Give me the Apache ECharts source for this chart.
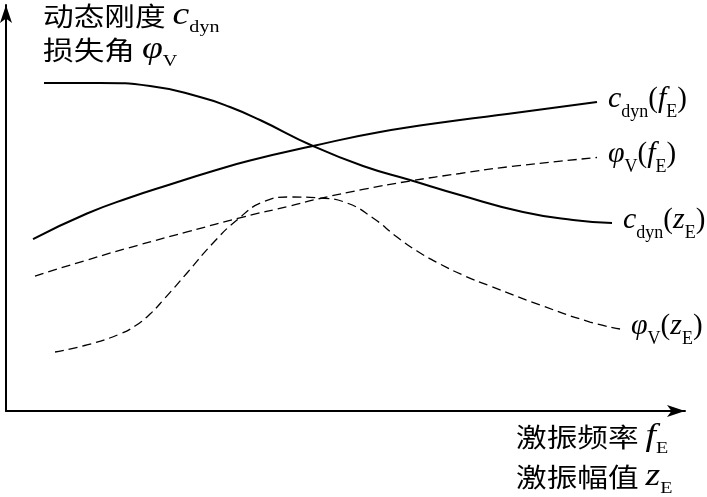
<!DOCTYPE html>
<html><head><meta charset="utf-8">
<script src="https://cdn.jsdelivr.net/npm/echarts@6/dist/echarts.min.js"></script>
<style>html,body{margin:0;padding:0;background:#fff}#c{width:707px;height:497px}</style>
</head><body><div id="c"></div>
<script>
// Relative units (0-100 along each axis)
const cdynF_x = [3.98, 11.93, 18.26, 24.15, 30.49, 35.94, 45.21, 55.08, 66.86, 73.79, 87.04];
const cdynF_y = [42.36, 48.65, 52.59, 55.79, 59.11, 61.70, 65.27, 68.72, 71.67, 73.15, 76.11];
const cdynZ_x = [5.60, 13.84, 21.21, 28.57, 32.99, 37.41, 45.21, 52.58, 59.50, 66.86, 76.14, 83.51, 89.25];
const cdynZ_y = [80.79, 80.79, 80.05, 77.34, 74.88, 71.67, 65.27, 60.34, 56.90, 53.20, 49.01, 47.04, 46.31];
const phiF_x = [4.27, 11.93, 19.29, 26.66, 34.90, 41.83, 46.24, 52.58, 59.50, 66.86, 73.79, 87.04];
const phiF_y = [33.25, 37.19, 40.76, 44.09, 47.78, 50.49, 52.34, 54.56, 56.65, 58.50, 60.10, 62.44];
const phiZ_x = [7.22, 11.93, 16.79, 19.00, 21.21, 23.42, 26.66, 30.49, 34.02, 37.85, 41.83, 46.24, 50.22, 54.05, 57.58, 60.53, 63.92, 67.60, 71.28, 78.65, 86.01, 90.43];
const phiZ_y = [14.53, 16.26, 18.97, 20.94, 23.89, 27.83, 33.99, 41.38, 47.04, 51.48, 52.71, 52.46, 51.23, 47.54, 42.86, 39.41, 36.21, 33.25, 30.79, 26.11, 21.92, 20.20];

const seriesLabels = [
  '{i|c}{s|dyn}{p|(}{i|f}{s|E}{p|)}',
  '{i|c}{s|dyn}{p|(}{i|z}{s|E}{p|)}',
  '{i|φ}{s|V}{p|(}{i|f}{s|E}{p|)}',
  '{i|φ}{s|V}{p|(}{i|z}{s|E}{p|)}'
];
const yTitle = ['{h|动态刚度 }{c|c}{s|dyn}', '{h|损失角 }{c|φ}{s|V}'];
const xTitle = ['{h|激振频率 }{c|f}{s|E}', '{h|激振幅值 }{c|z}{s|E}'];

const pairs = (xs, ys) => xs.map((x, i) => [x, ys[i]]);
const serif = '"Liberation Serif","DejaVu Serif",serif';
const cjk = '"Noto Sans CJK SC",sans-serif';
const richLab = {
  i: {fontFamily: serif, fontStyle: 'italic', fontSize: 30, lineHeight: 30, color: '#000'},
  p: {fontFamily: serif, fontSize: 29, lineHeight: 30, color: '#000'},
  s: {fontFamily: serif, fontSize: 18, lineHeight: 18, verticalAlign: 'top', padding: [19, 0, 0, 0], color: '#000'}
};
const richTitle = {
  h: {fontFamily: cjk, fontSize: 26, lineHeight: 34, color: '#000'},
  c: {fontFamily: serif, fontStyle: 'italic', fontSize: 32, lineHeight: 34, color: '#000'},
  s: {fontFamily: serif, fontSize: 17, lineHeight: 17, verticalAlign: 'top', padding: [20, 0, 0, 0], color: '#000'}
};
function mk(name, data, dashed, label) {
  return {
    type: 'line', name, data, smooth: 0.5, symbol: 'none',
    lineStyle: {color: '#000', width: dashed ? 1.3 : 2, type: dashed ? [9, 5] : 'solid'},
    endLabel: {show: true, formatter: label, distance: 11, offset: [0, -3], rich: richLab},
    animation: false
  };
}
const chart = echarts.init(document.getElementById('c'));
chart.setOption({
  animation: false,
  grid: {left: 6, right: 22, top: 5, bottom: 86},
  xAxis: {type: 'value', min: 0, max: 100, splitLine: {show: false}, axisTick: {show: false}, axisLabel: {show: false},
    axisLine: {lineStyle: {color: '#000', width: 2}, symbol: ['none', 'arrow'], symbolSize: [9, 18]}},
  yAxis: {type: 'value', min: 0, max: 100, splitLine: {show: false}, axisTick: {show: false}, axisLabel: {show: false},
    axisLine: {lineStyle: {color: '#000', width: 2}, symbol: ['none', 'arrow'], symbolSize: [9, 18]}},
  series: [
    mk('cdynF', pairs(cdynF_x, cdynF_y), false, seriesLabels[0]),
    mk('cdynZ', pairs(cdynZ_x, cdynZ_y), false, seriesLabels[1]),
    mk('phiF', pairs(phiF_x, phiF_y), true, seriesLabels[2]),
    mk('phiZ', pairs(phiZ_x, phiZ_y), true, seriesLabels[3])
  ],
  graphic: [
    {type: 'text', x: 43, y: -1, scaleX: 1.18, style: {text: yTitle[0], rich: richTitle}},
    {type: 'text', x: 43, y: 33, scaleX: 1.18, style: {text: yTitle[1], rich: richTitle}},
    {type: 'text', x: 516, y: 420, scaleX: 1.18, style: {text: xTitle[0], rich: richTitle}},
    {type: 'text', x: 516, y: 460, scaleX: 1.18, style: {text: xTitle[1], rich: richTitle}}
  ]
});
</script></body></html>
